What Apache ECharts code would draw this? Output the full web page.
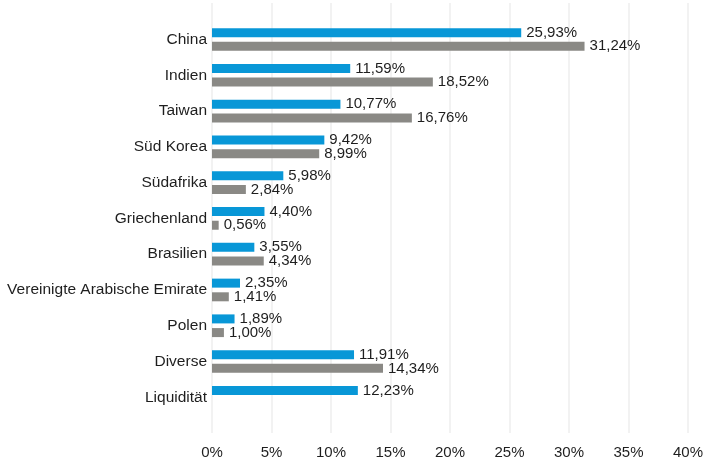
<!DOCTYPE html>
<html>
<head>
<meta charset="utf-8">
<script src="https://cdn.jsdelivr.net/npm/echarts@6/dist/echarts.min.js"></script>
<style>
  html, body { margin: 0; padding: 0; background: #fff; }
  #chart { width: 706px; height: 460px; }
</style>
</head>
<body>
<div id="chart"></div>
<script>
// Länder / Kategorien von oben nach unten
const categories = ['China', 'Indien', 'Taiwan', 'Süd Korea', 'Südafrika', 'Griechenland',
    'Brasilien', 'Vereinigte Arabische Emirate', 'Polen', 'Diverse', 'Liquidität'];
// blaue Balken (Fonds)
const fondValues = [25.93, 11.59, 10.77, 9.42, 5.98, 4.40, 3.55, 2.35, 1.89, 11.91, 12.23];
// graue Balken (Vergleich) – Liquidität ohne Wert
const benchValues = [31.24, 18.52, 16.76, 8.99, 2.84, 0.56, 4.34, 1.41, 1.00, 14.34, '-'];
const xTicks = { min: 0, max: 40, interval: 5 };

const chart = echarts.init(document.getElementById('chart'));
const font = 'Liberation Sans, Arial, sans-serif';
const fmt = (p) => p.value.toFixed(2).replace('.', ',') + '%';

const label = {
    show: true,
    position: 'right',
    distance: 5,
    formatter: fmt,
    color: '#1e1e1e',
    fontSize: 15,
    fontFamily: font
};

chart.setOption({
    animation: false,
    grid: [
        // Gitterlinien + x-Achse
        { left: 212, right: 17, top: 3, height: 430 },
        // Balken
        { left: 212, right: 17, top: 21.6, height: 393.6 }
    ],
    xAxis: [
        {
            gridIndex: 0, type: 'value', min: xTicks.min, max: xTicks.max, interval: xTicks.interval,
            axisLine: { show: false }, axisTick: { show: false },
            axisLabel: { formatter: '{value}%', color: '#1e1e1e', fontSize: 15, fontFamily: font, margin: 12 },
            splitLine: { lineStyle: { color: '#eeeeee', width: 1.5 } }
        },
        {
            gridIndex: 1, type: 'value', min: xTicks.min, max: xTicks.max, show: false,
            splitLine: { show: false }
        }
    ],
    yAxis: [
        { gridIndex: 0, type: 'value', show: false, splitLine: { show: false } },
        {
            gridIndex: 1, type: 'category', data: categories, inverse: true,
            axisLine: { show: false }, axisTick: { show: false },
            axisLabel: { color: '#1e1e1e', fontSize: 15.5, fontFamily: font, margin: 5 }
        }
    ],
    series: [
        {
            name: 'Fonds', type: 'bar', xAxisIndex: 1, yAxisIndex: 1,
            data: fondValues, barWidth: 9, barGap: '52%',
            itemStyle: { color: '#0897d7' },
            label: label
        },
        {
            name: 'Vergleich', type: 'bar', xAxisIndex: 1, yAxisIndex: 1,
            data: benchValues, barWidth: 9,
            itemStyle: { color: '#8a8985' },
            label: label
        }
    ]
});
</script>
</body>
</html>
